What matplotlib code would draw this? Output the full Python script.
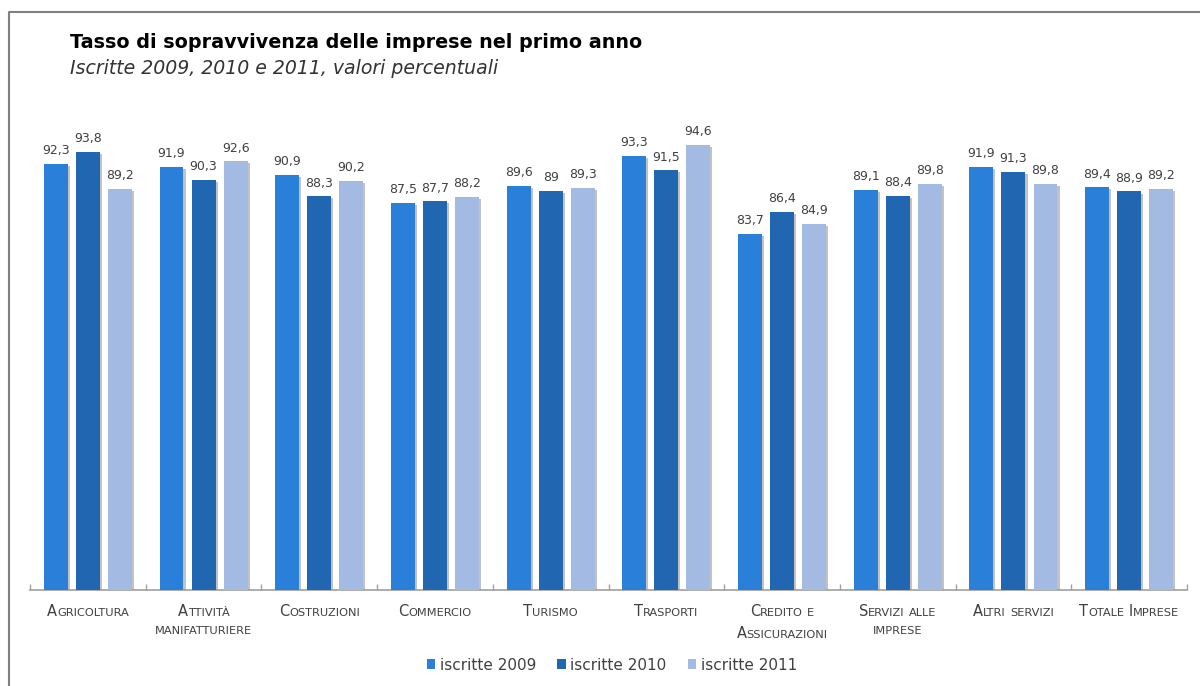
import numpy as np
import matplotlib
matplotlib.use("Agg")
import matplotlib.pyplot as plt
import matplotlib.patheffects as pe
from matplotlib.offsetbox import TextArea, HPacker, VPacker, AnnotationBbox
from matplotlib.lines import Line2D
from matplotlib.patches import Patch

plt.rcParams['font.family'] = ['DejaVu Sans']

categories = ["Agricoltura", "Attività\nmanifatturiere", "Costruzioni", "Commercio",
              "Turismo", "Trasporti", "Credito e\nAssicurazioni", "Servizi alle\nimprese",
              "Altri servizi", "Totale Imprese"]
series = ["iscritte 2009", "iscritte 2010", "iscritte 2011"]
v2009 = [92.3, 91.9, 90.9, 87.5, 89.6, 93.3, 83.7, 89.1, 91.9, 89.4]
v2010 = [93.8, 90.3, 88.3, 87.7, 89.0, 91.5, 86.4, 88.4, 91.3, 88.9]
v2011 = [89.2, 92.6, 90.2, 88.2, 89.3, 94.6, 84.9, 89.8, 89.8, 89.2]
colors = ["#2a7fd8", "#2166b0", "#a3bbe3"]

txt_col = "#404040"

fig = plt.figure(figsize=(12, 6.86), dpi=100)
ax = fig.add_axes([30 / 1200, 1 - 590 / 686, 1157 / 1200, 489 / 686])

x = np.arange(len(categories))
width = 0.207
step = 0.277
shadow = [pe.SimplePatchShadow(offset=(1.5, -1.5), shadow_rgbFace="#9a9a9a", alpha=0.6), pe.Normal()]
for k, (vals, col, name) in enumerate(zip([v2009, v2010, v2011], colors, series)):
    bars = ax.bar(x + (k - 1) * step, vals, width, color=col, zorder=3)
    for b in bars:
        b.set_path_effects(shadow)
    for xi, v in zip(x + (k - 1) * step, vals):
        ax.annotate(f"{v:g}".replace(".", ","), (xi, v), xytext=(0, 7), textcoords="offset points",
                    ha="center", va="baseline", fontsize=9, color=txt_col)

ax.set_xlim(-0.5, len(categories) - 0.5)
ax.set_ylim(40, 100)
ax.set_yticks([])
ax.set_xticks(np.arange(len(categories) + 1) - 0.5)
ax.set_xticklabels([])
ax.tick_params(axis="x", direction="in", length=4, color="#a0a0a0", width=1)
for s in ["top", "right", "left"]:
    ax.spines[s].set_visible(False)
ax.spines["bottom"].set_color("#a0a0a0")
ax.spines["bottom"].set_linewidth(1.2)


# small caps category labels
def smallcaps_line(line, big=10.5, small=8.2):
    words = []
    for w in line.split(" "):
        parts = []
        rest = w
        if w[0].isupper():
            parts.append(TextArea(w[0], textprops=dict(size=big, color=txt_col)))
            rest = w[1:]
        if rest:
            parts.append(TextArea(rest.upper(), textprops=dict(size=small, color=txt_col)))
        words.append(HPacker(children=parts, sep=0, pad=0, align="baseline"))
    return HPacker(children=words, sep=3, pad=0, align="baseline")


for i, lab in enumerate(categories):
    lines = [smallcaps_line(l) for l in lab.split("\n")]
    box = VPacker(children=lines, sep=5, pad=0, align="center")
    ab = AnnotationBbox(box, (i, 0), xycoords=("data", "axes fraction"), xybox=(0, -10),
                        boxcoords="offset points", box_alignment=(0.5, 1), frameon=False,
                        annotation_clip=False)
    ax.add_artist(ab)

fig.text(70 / 1200, 1 - 42 / 686, "Tasso di sopravvivenza delle imprese nel primo anno",
         fontsize=13.8, fontweight="bold", color="black", va="center")
fig.text(70 / 1200, 1 - 68 / 686, "Iscritte 2009, 2010 e 2011, valori percentuali",
         fontsize=13.6, style="italic", color="#333333", va="center")

handles = [Patch(facecolor=c, label=s) for c, s in zip(colors, series)]
fig.legend(handles=handles, loc="center", bbox_to_anchor=(612 / 1200, 1 - 665 / 686), ncol=3,
           frameon=False, fontsize=11, handlelength=0.55, handleheight=0.55, handletextpad=0.3,
           columnspacing=1.4, labelcolor=txt_col)

# outer frame (left and top edge)
fig.add_artist(Line2D([9 / 1200, 9 / 1200, 1.0], [0.0, 1 - 12 / 686, 1 - 12 / 686],
                      transform=fig.transFigure, color="#808080", lw=1.5))

fig.savefig("out.png", dpi=100)
